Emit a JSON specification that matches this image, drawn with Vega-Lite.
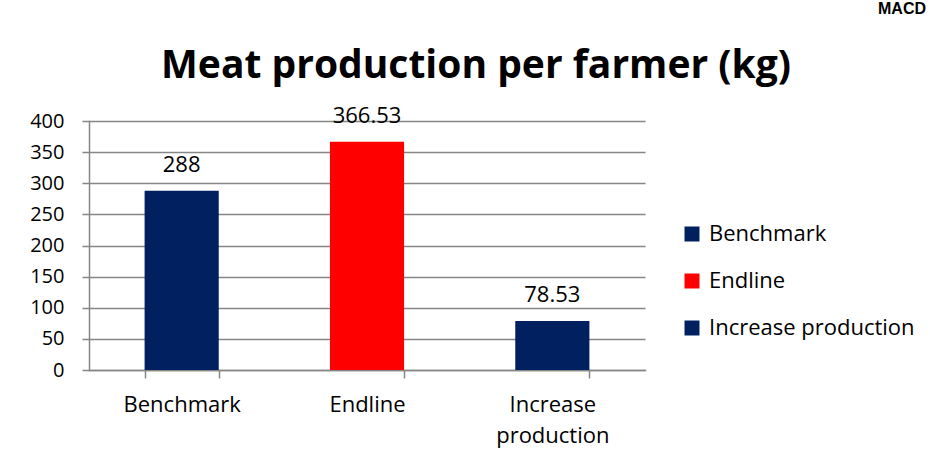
{
  "$schema": "https://vega.github.io/schema/vega-lite/v6.json",
  "background": "white",
  "padding": {"left": 29, "top": 0, "right": 2, "bottom": 10},
  "title": {"text": "MACD", "anchor": "end", "fontSize": 16, "font": "Liberation Sans", "fontWeight": "bold", "color": "black", "offset": 26, "dx": 11, "dy": -4},
  "data": {"values": [
    {"category": "Benchmark", "value": 288},
    {"category": "Endline", "value": 366.53},
    {"category": "Increase production", "value": 78.53}
  ]},
  "vconcat": [{
    "width": 556,
    "height": 249,
    "title": {"text": "Meat production per farmer (kg)", "fontSize": 39, "font": "Open Sans", "fontWeight": "bold", "color": "black", "anchor": "middle", "offset": 19, "dx": 109},
    "encoding": {
      "x": {"field": "category", "type": "nominal", "sort": null,
        "scale": {"paddingInner": 0.6, "paddingOuter": 0.3},
        "axis": {"title": null, "labelAngle": 0, "tickBand": "extent", "tickSize": 8, "tickColor": "#868686", "tickWidth": 1.5, "domainColor": "#868686", "domainWidth": 1.5, "labelFont": "Open Sans", "labelFontSize": 22, "labelColor": "black", "labelPadding": 16, "labelLineHeight": 31,
          "labelExpr": "datum.value == 'Increase production' ? ['Increase', 'production'] : datum.value"}
      },
      "y": {"field": "value", "type": "quantitative",
        "scale": {"domain": [0, 400], "nice": false},
        "axis": {"title": null, "values": [0, 50, 100, 150, 200, 250, 300, 350, 400], "grid": true, "gridColor": "#868686", "gridWidth": 1.5, "tickSize": 7, "tickColor": "#868686", "tickWidth": 1.5, "domainColor": "#868686", "domainWidth": 1.5, "labelFont": "Open Sans", "labelFontSize": 20, "labelColor": "black", "labelPadding": 18}
      }
    },
    "layer": [
      {"mark": {"type": "bar"},
       "encoding": {"color": {"field": "category", "type": "nominal", "sort": null,
         "scale": {"domain": ["Benchmark", "Endline", "Increase production"], "range": ["#002060", "#FF0000", "#002060"]},
         "legend": {"title": null, "orient": "none", "legendX": 592, "legendY": 102, "symbolType": "square", "symbolSize": 225, "symbolStrokeWidth": 0, "labelFont": "Open Sans", "labelFontSize": 22, "labelColor": "black", "labelLimit": 400, "rowPadding": 25, "labelOffset": 6}}}},
      {"mark": {"type": "text", "dy": -26, "font": "Open Sans", "fontSize": 22, "color": "black"},
       "encoding": {"text": {"field": "value", "type": "quantitative", "format": ""}}}
    ]
  }],
  "config": {"view": {"stroke": null}, "axis": {"domainCap": "square"}}
}
